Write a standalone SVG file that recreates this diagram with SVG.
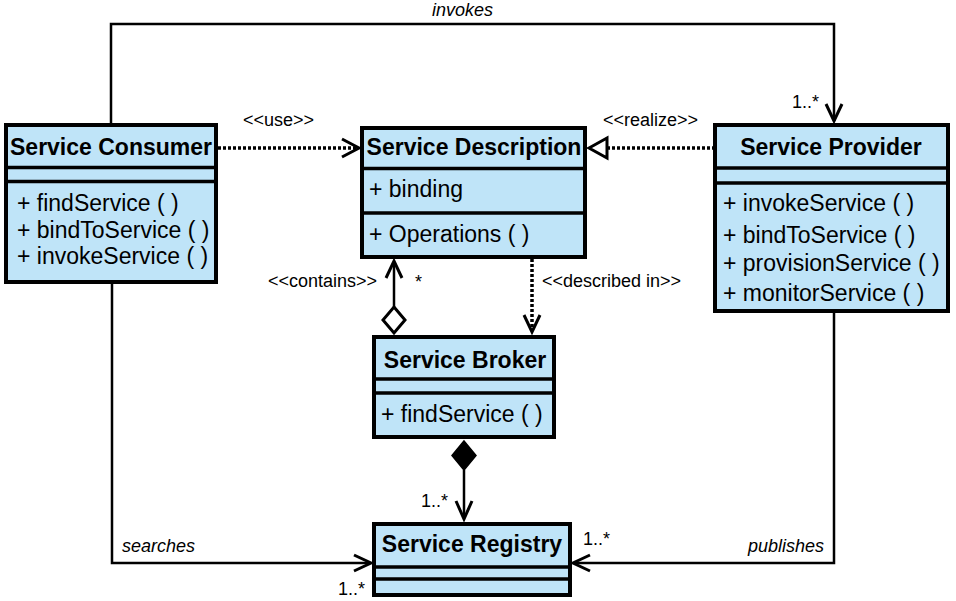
<svg xmlns="http://www.w3.org/2000/svg" width="956" height="601" viewBox="0 0 956 601">
<style>
  .box { fill: #bfe4f8; stroke: #000; stroke-width: 4; }
  .div { stroke: #000; stroke-width: 3.5; }
  .title { font-family: "Liberation Sans", Arial, sans-serif; font-size: 23px; font-weight: bold; fill: #000; text-anchor: middle; }
  .member { font-family: "Liberation Sans", Arial, sans-serif; font-size: 23px; fill: #000; }
  .lbl { font-family: "Liberation Sans", Arial, sans-serif; font-size: 18px; fill: #000; }
  .it { font-style: italic; }
  .line { fill: none; stroke: #000; stroke-width: 2.5; }
  .dot { fill: none; stroke: #000; stroke-width: 3.5; stroke-dasharray: 3 2; }
  .head { fill: none; stroke: #000; stroke-width: 3; stroke-linejoin: miter; }
</style>
<rect width="956" height="601" fill="#fff"/>
<g id="connectors">
  <!-- invokes -->
  <path class="line" d="M111 123 V24 H834 V121"/>
  <path class="head" d="M826 104 L834 121 L842 104"/>
  <!-- use -->
  <path class="dot" d="M218 148 H356"/>
  <path class="head" d="M342 139 L359 148 L342 157"/>
  <!-- realize -->
  <path class="dot" d="M607 148 H713"/>
  <path d="M589 148 L607 138 L607 158 Z" fill="#fff" stroke="#000" stroke-width="3"/>
  <!-- contains -->
  <path class="line" d="M394 262 V307"/>
  <path class="head" d="M386 278 L394 261 L402 278"/>
  <path d="M394 307 L405 320 L394 333 L383 320 Z" fill="#fff" stroke="#000" stroke-width="3"/>
  <!-- described in -->
  <path class="dot" d="M532 259 V330"/>
  <path class="head" d="M524 315 L532 332 L540 315"/>
  <!-- composition -->
  <path d="M464 441 L476 455.5 L464 470 L452 455.5 Z" fill="#000" stroke="#000" stroke-width="1.5"/>
  <path class="line" d="M464 470 V518"/>
  <path class="head" d="M456 501 L464 519 L472 501"/>
  <!-- searches -->
  <path class="line" d="M112 284 V563 H370"/>
  <path class="head" d="M354 555 L371 563 L354 571"/>
  <!-- publishes -->
  <path class="line" d="M834 313 V563 H574"/>
  <path class="head" d="M590 555 L573 563 L590 571"/>
  <!-- labels -->
  <text class="lbl it" x="432" y="16">invokes</text>
  <text class="lbl" x="792" y="108">1..*</text>
  <text class="lbl" x="243" y="126">&lt;&lt;use&gt;&gt;</text>
  <text class="lbl" x="603" y="126">&lt;&lt;realize&gt;&gt;</text>
  <text class="lbl" x="268" y="287">&lt;&lt;contains&gt;&gt;</text>
  <text class="lbl" x="415" y="288">*</text>
  <text class="lbl" x="542" y="287">&lt;&lt;described in&gt;&gt;</text>
  <text class="lbl" x="421" y="507">1..*</text>
  <text class="lbl it" x="122" y="552">searches</text>
  <text class="lbl" x="338" y="595">1..*</text>
  <text class="lbl it" x="748" y="552">publishes</text>
  <text class="lbl" x="583" y="545">1..*</text>
</g>
<g id="service-consumer">
  <rect class="box" x="6" y="125" width="210" height="157"/>
  <line class="div" x1="6" y1="167.5" x2="216" y2="167.5"/>
  <line class="div" x1="6" y1="181.5" x2="216" y2="181.5"/>
  <text class="title" x="111" y="155">Service Consumer</text>
  <text class="member" x="17" y="211">+ findService ( )</text>
  <text class="member" x="17" y="238">+ bindToService ( )</text>
  <text class="member" x="17" y="264">+ invokeService ( )</text>
</g>
<g id="service-description">
  <rect class="box" x="362" y="128" width="223" height="129"/>
  <line class="div" x1="362" y1="168.5" x2="585" y2="168.5"/>
  <line class="div" x1="362" y1="213" x2="585" y2="213"/>
  <text class="title" x="474" y="155">Service Description</text>
  <text class="member" x="369" y="197">+ binding</text>
  <text class="member" x="369" y="242">+ Operations ( )</text>
</g>
<g id="service-provider">
  <rect class="box" x="715" y="125" width="233" height="186"/>
  <line class="div" x1="715" y1="168" x2="948" y2="168"/>
  <line class="div" x1="715" y1="183" x2="948" y2="183"/>
  <text class="title" x="831" y="155">Service Provider</text>
  <text class="member" x="723" y="211">+ invokeService ( )</text>
  <text class="member" x="723" y="243">+ bindToService ( )</text>
  <text class="member" x="723" y="271">+ provisionService ( )</text>
  <text class="member" x="723" y="301">+ monitorService ( )</text>
</g>
<g id="service-broker">
  <rect class="box" x="374" y="337" width="180" height="100"/>
  <line class="div" x1="374" y1="379" x2="554" y2="379"/>
  <line class="div" x1="374" y1="393" x2="554" y2="393"/>
  <text class="title" x="465" y="368">Service Broker</text>
  <text class="member" x="381" y="422">+ findService ( )</text>
</g>
<g id="service-registry">
  <rect class="box" x="374" y="524" width="196" height="71"/>
  <line class="div" x1="374" y1="567" x2="570" y2="567"/>
  <line class="div" x1="374" y1="579" x2="570" y2="579"/>
  <text class="title" x="472" y="552">Service Registry</text>
</g>
</svg>
